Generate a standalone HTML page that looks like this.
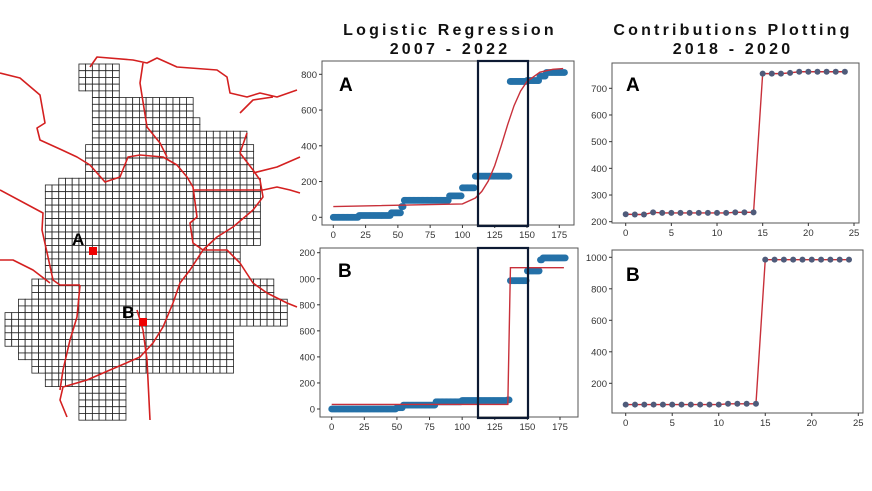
<!DOCTYPE html>
<html><head><meta charset="utf-8"><style>
html,body{margin:0;padding:0;background:#fff;}
svg{display:block;font-family:"Liberation Sans",sans-serif;}
.tk{font-size:9.5px;fill:#333;}
.ttl{font-size:16px;font-weight:bold;letter-spacing:3.2px;fill:#111;}
.pl{font-size:19px;font-weight:bold;fill:#000;}
</style></head><body>
<svg id="fig" width="872" height="491" viewBox="0 0 872 491">
<rect width="872" height="491" fill="#fff"/>
<g id="map"></g>
<g id="borders"></g>
<rect x="89" y="247" width="8" height="8" fill="#e00"/>
<rect x="139" y="318" width="8" height="8" fill="#e00"/>
<text x="72" y="245" class="pl" style="font-size:17px">A</text>
<text x="122" y="318" class="pl" style="font-size:17px">B</text>
<text x="450" y="35" text-anchor="middle" class="ttl">Logistic Regression</text>
<text x="450" y="54" text-anchor="middle" class="ttl">2007 - 2022</text>
<text x="733" y="35" text-anchor="middle" class="ttl">Contributions Plotting</text>
<text x="733" y="54" text-anchor="middle" class="ttl">2018 - 2020</text>
<defs><clipPath id="clipB"><rect x="300" y="240" width="300" height="200"/></clipPath></defs>
<g id="charts"></g>
</svg>
<script>
// ---- map data (row bands: yStart, yEnd, xStart, xEnd in px) ----
const mapBands=[[64,92,76,118],[92,100,90,118],[100,120,90,192],[120,128,90,202],[128,142,90,245],[142,175,83,252],[175,183,62,258],[183,243,47,258],[243,277,47,238],[277,297,33,273],[297,310,20,287],[310,327,5,287],[327,347,5,232],[347,362,20,232],[362,375,33,232],[375,387,48,127],[387,418,77,127]];
const borderLines=[
[[0,73],[20,78],[40,95],[45,123],[37,128],[40,140],[62,150],[77,157],[90,165],[105,182],[120,177],[128,157],[140,155],[163,157],[177,165],[187,177],[193,187],[197,217],[190,223],[193,243],[203,250],[190,270],[180,283],[173,303],[163,327],[153,343],[140,357],[110,370],[87,380],[63,387],[60,400],[67,417]],
[[90,67],[97,57],[133,60],[147,63],[157,58],[177,67],[217,70],[227,77],[230,93],[247,97],[260,93],[277,97],[297,90]],
[[143,63],[140,83],[147,127],[160,143],[167,157]],
[[0,190],[43,213],[42,230],[48,257],[53,280],[60,285],[80,285]],
[[0,260],[13,260],[33,270],[50,283]],
[[80,285],[77,317],[70,340],[63,370],[60,390]],
[[240,113],[253,100],[273,97]],
[[247,133],[240,153],[253,170],[260,180],[263,197],[253,210],[233,227],[217,237],[203,250],[227,250],[240,263],[253,283],[267,293],[287,303],[297,307]],
[[253,173],[277,167],[300,157]],
[[263,190],[277,187],[290,190],[300,193]],
[[193,190],[217,190],[263,190]],
[[137,310],[143,330],[147,360],[150,420]]
];
// ---- chart data ----
const laStartX=[0,20,45,53,55,90,100,110,137,150,160,165];
const laEndX=[20,45,53,55,90,100,110,137,150,160,165,180];
const laValues=[0,10,25,60,95,120,165,230,760,765,790,810];
const laFitX=[0,100,110,115,120,125,130,135,140,145,150,160,170,178];
const laFitY=[60,75,108,145,203,289,400,518,625,706,760,812,828,832];
const lbStartX=[0,50,55,80,100,135,137,150,160,162];
const lbEndX=[50,55,80,100,135,137,150,160,162,180];
const lbValues=[0,10,30,55,65,70,985,1060,1145,1160];
const lbFitX=[0,135,137,178];
const lbFitY=[35,35,1085,1085];
const midXTicks=[0,25,50,75,100,125,150,175];
const laYTicks=[0,200,400,600,800];
const lbYTicks=[0,200,400,600,800,1000,1200];
const raValues=[228,227,227,235,233,233,233,233,233,233,233,233,235,235,235,755,755,755,758,762,762,762,762,762,762];
const rbValues=[65,65,65,65,65,65,65,65,65,65,65,70,70,70,70,985,985,985,985,985,985,985,985,985,985];
const rightXTicks=[0,5,10,15,20,25];
const raYTicks=[200,300,400,500,600,700];
const rbYTicks=[200,400,600,800,1000];

const NS="http://www.w3.org/2000/svg";
function mk(tag,attrs,parent){const e=document.createElementNS(NS,tag);for(const k in attrs)e.setAttribute(k,attrs[k]);parent.appendChild(e);return e;}
function lin(d0,d1,r0,r1){return v=>r0+(v-d0)*(r1-r0)/(d1-d0);}

const mapG=document.getElementById('map');
const C=6.72,OX=5,OY=64;
mapBands.forEach(b=>{
  const r0=Math.round((b[0]-OY)/C),r1=Math.round((b[1]-OY)/C);
  const c0=Math.round((b[2]-OX)/C),c1=Math.round((b[3]-OX)/C);
  for(let r=r0;r<r1;r++)for(let c=c0;c<c1;c++){
    const e=mk('rect',{x:OX+c*C,y:OY+r*C,width:C,height:C,fill:'#fff',stroke:'#222','stroke-width':0.8},mapG);
    
    
  }
});
const bG=document.getElementById('borders');
borderLines.forEach(l=>{
  const e=mk('polyline',{points:l.map(p=>p.join(',')).join(' '),fill:'none',stroke:'#d42020','stroke-width':1.6,'stroke-linejoin':'round'},bG);
  
  
});

const charts=document.getElementById('charts');
function axes(g,box,xs,ys,xt,yt,clip){
  const fr=mk('rect',{x:box[0],y:box[1],width:box[2]-box[0],height:box[3]-box[1],fill:'none',stroke:'#555','stroke-width':1},g);
  
  
  xt.forEach(t=>{
    const x=xs(t);
    mk('line',{x1:x,x2:x,y1:box[3],y2:box[3]+3,stroke:'#333'},g);
    const e=mk('text',{x:x,y:box[3]+13,'text-anchor':'middle',class:'tk'},g);e.textContent=t;
    
    
  });
  const yg=mk('g',clip?{'clip-path':'url(#clipB)'}:{},g);
  yt.forEach(t=>{
    const y=ys(t);
    mk('line',{x1:box[0]-3,x2:box[0],y1:y,y2:y,stroke:'#333'},g);
    const e=mk('text',{x:box[0]-5,y:y+3.5,'text-anchor':'end',class:'tk'},yg);e.textContent=t;
    
    
  });
}
function stepPoints(g,xs,ys,sx,ex,vals){
  for(let i=0;i<sx.length;i++){
    for(let x=sx[i];x<ex[i];x++){
      const e=mk('circle',{cx:xs(x),cy:ys(vals[i]),r:3.4,fill:'#2471a8'},g);
      
      
    }
  }
}
function line(g,xs,ys,X,Y,name){
  const e=mk('polyline',{points:X.map((x,i)=>xs(x)+','+ys(Y[i])).join(' '),fill:'none',stroke:'#c8303a','stroke-width':1.4},g);
  
  
}
function label(g,x,y,t,n){const e=mk('text',{x:x,y:y,class:'pl'},g);e.textContent=t;
  
  }
function hl(g,x0,x1,y0,y1){const e=mk('rect',{x:x0,y:y0,width:x1-x0,height:y1-y0,fill:'none',stroke:'#0d1a33','stroke-width':2.2},g);
  
  }

(function(){
  const g=mk('g',{},charts);
  const box=[322,61,574,225];
  const xs=lin(0,175,333.3,559.3),ys=lin(0,800,217.3,74.3);
  axes(g,box,xs,ys,midXTicks,laYTicks,false);
  stepPoints(g,xs,ys,laStartX,laEndX,laValues);
  line(g,xs,ys,laFitX,laFitY,'logistic-fit-line');
  hl(g,478,528,61,226);
  label(g,339,91,'A','panel-label-a');
})();
(function(){
  const g=mk('g',{},charts);
  const box=[320,248,578,417];
  const xs=lin(0,175,331.7,560),ys=lin(0,1200,409,252.7);
  axes(g,box,xs,ys,midXTicks,lbYTicks,true);
  stepPoints(g,xs,ys,lbStartX,lbEndX,lbValues);
  line(g,xs,ys,lbFitX,lbFitY,'step-fit-line');
  hl(g,478,528,248,418);
  label(g,338,277,'B','panel-label-b');
})();
function right(name,box,xs,ys,yt,vals,lab,ly){
  const g=mk('g',{},charts);
  axes(g,box,xs,ys,rightXTicks,yt,false);
  const X=vals.map((v,i)=>i);
  line(g,xs,ys,X,vals,'contribution-line');
  vals.forEach((v,i)=>{const e=mk('circle',{cx:xs(i),cy:ys(v),r:3,fill:'#4f5b7a'},g);
    
    });
  label(g,626,ly,lab,'panel-label-'+lab.toLowerCase());
}
right('contrib-chart-a',[612,63,859,223],lin(0,25,625.7,854),lin(200,700,221.7,88.3),raYTicks,raValues,'A',91);
right('contrib-chart-b',[612,250,863,413],lin(0,25,625.7,858.3),lin(200,1000,383.3,257.3),rbYTicks,rbValues,'B',281);
</script>
</body></html>
